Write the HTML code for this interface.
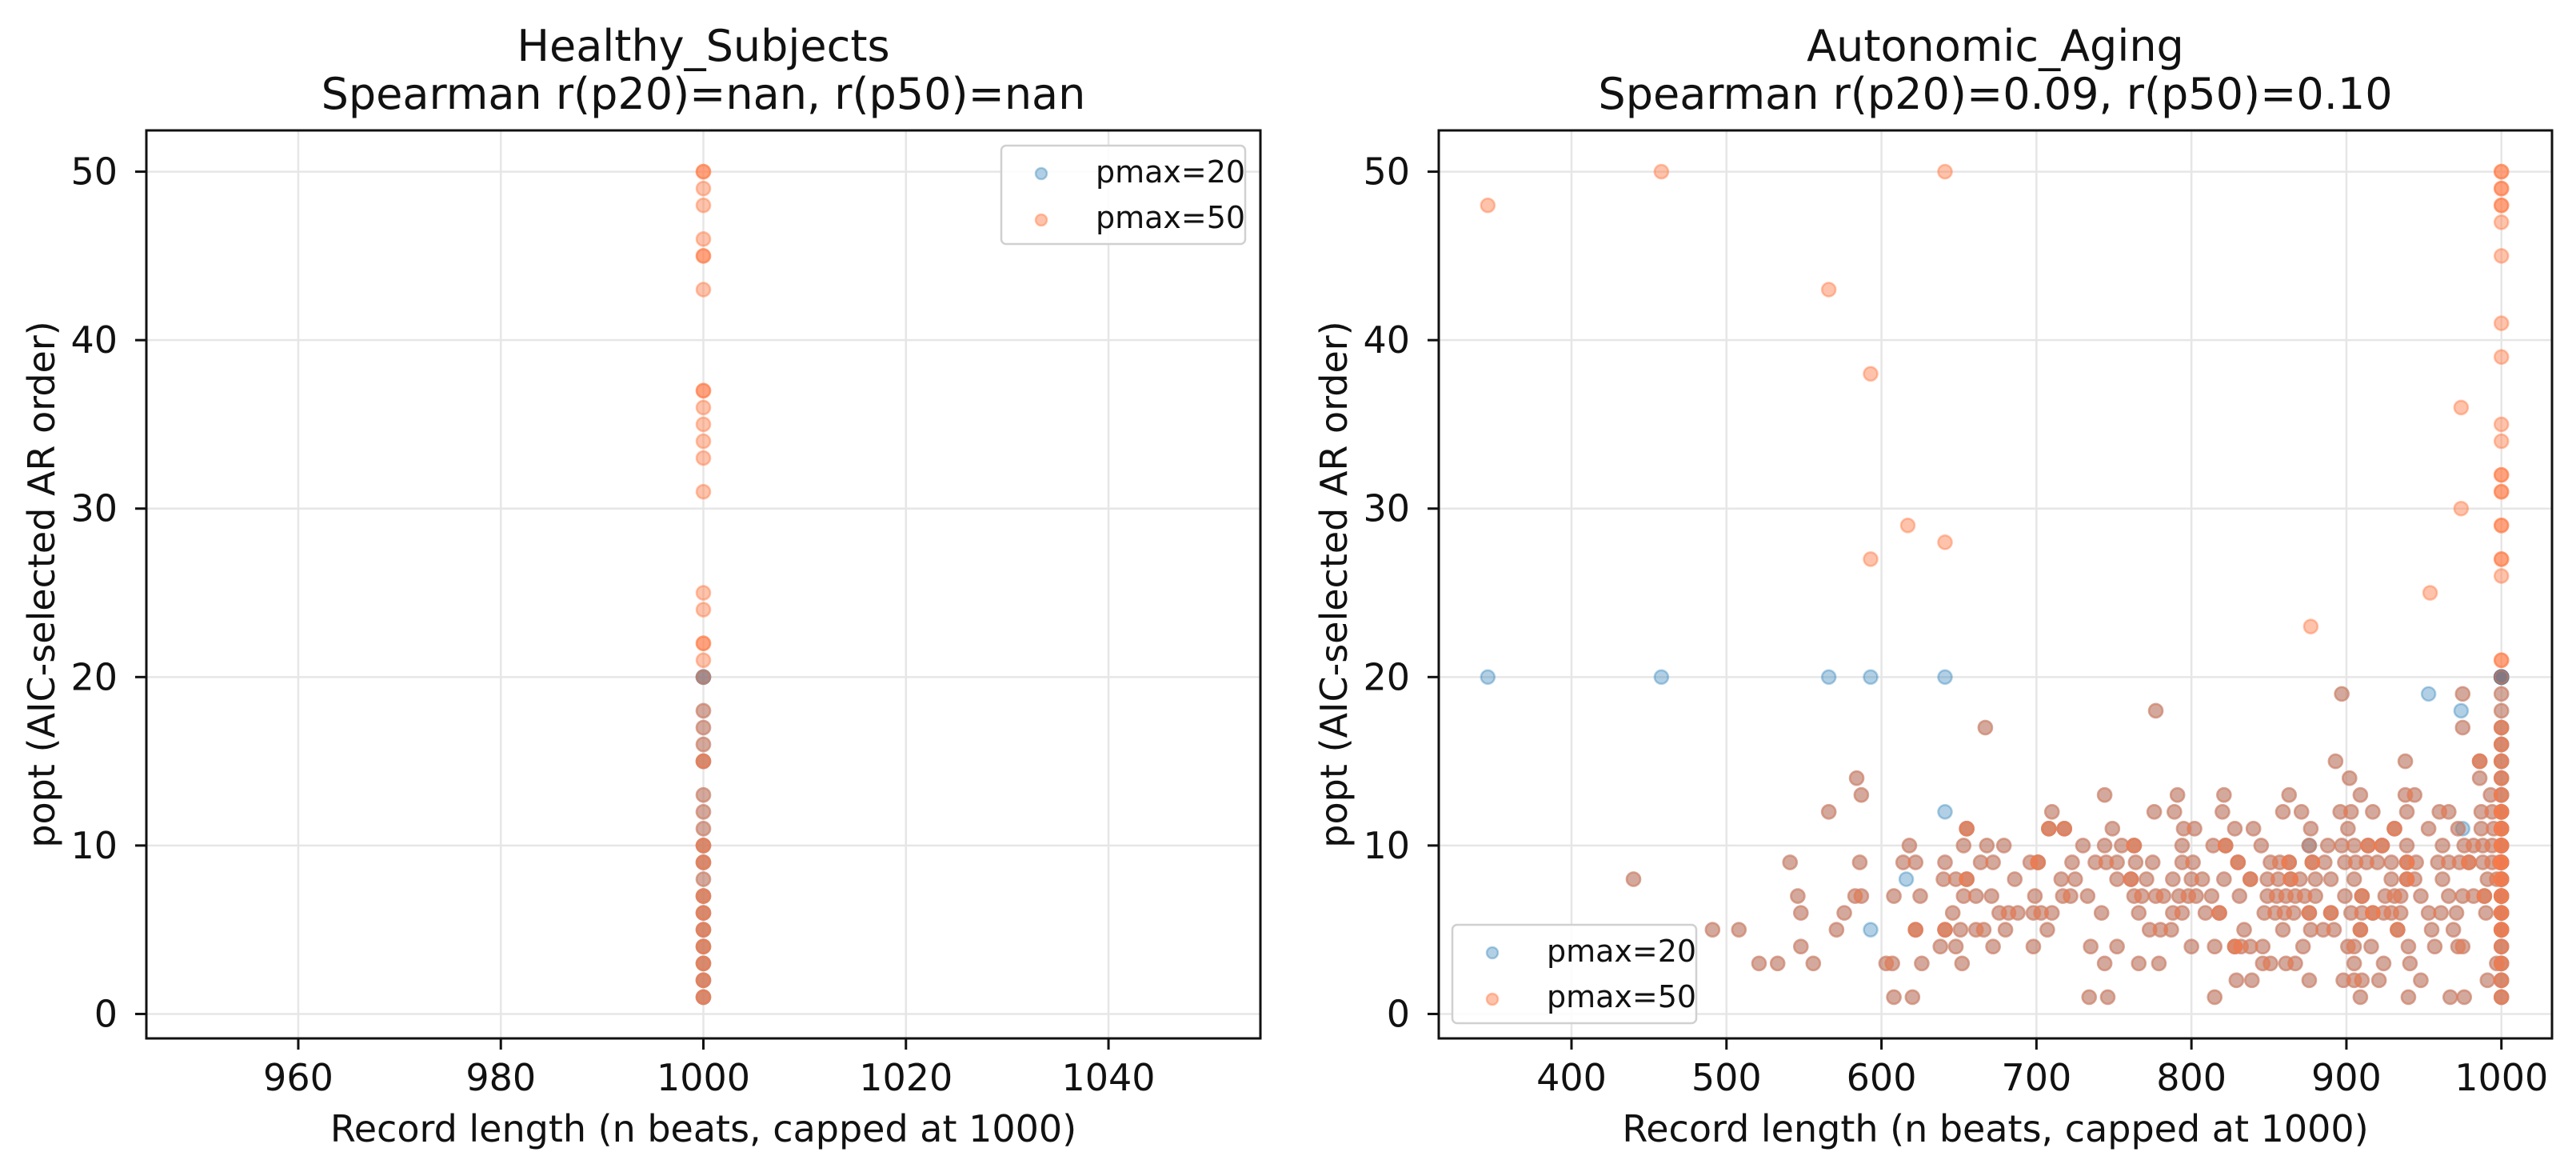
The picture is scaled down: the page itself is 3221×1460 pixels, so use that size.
<!DOCTYPE html>
<html><head><meta charset="utf-8">
<style>
html,body{margin:0;padding:0;background:#fff;}
svg{display:block;font-family:"DejaVu Sans","Liberation Sans",sans-serif;}
</style></head>
<body>
<svg id="fig" width="3221" height="1460" viewBox="0 0 3221 1460" xmlns="http://www.w3.org/2000/svg"></svg>
<script>
// ---------- Panel 1: Healthy_Subjects ----------
const hsSharedY = [1,1,2,2,3,3,4,4,5,5,6,6,7,7,8,9,9,10,10,11,12,13,15,15,16,17,18];
const hsP20ExtraY = [20,20,20];
const hsP50ExtraY = [20,21,22,22,24,25,31,33,34,35,36,37,37,43,45,45,46,48,49,50,50];
const hsRecordLen = 1000;
const hsXTicks = [960,980,1000,1020,1040];
// ---------- Panel 2: Autonomic_Aging ----------
const aaSharedX = [667,584,587,566,655,655,618,653,668,541,586,614,622,641,664,672,440,640,648,655,655,546,583,587,608,625,653,661,671,548,576,646,491,508,571,622,622,641,641,651,661,666,548,638,648,672,521,533,556,603,607,626,652,608,620,
897,975,777,975,893,938,986,986,902,986,
744,791,821,863,909,938,944,993,
710,776,789,820,859,871,896,903,917,939,960,966,987,994,
708,708,718,718,749,795,802,828,840,877,901,931,931,953,972,987,995,
679,730,744,755,763,763,794,814,822,822,845,876,888,897,905,914,914,923,923,939,962,976,982,988,994,
696,701,701,723,738,745,752,764,775,794,801,830,830,851,857,863,863,878,878,886,899,906,913,920,929,939,939,945,959,966,973,979,979,988,994,999,
686,716,725,752,761,761,771,788,800,807,821,838,838,849,856,864,864,870,880,890,905,929,939,939,944,962,991,997,
699,717,722,733,763,768,777,782,792,798,803,813,831,849,855,861,867,873,880,899,910,910,925,931,935,948,966,975,982,989,989,
676,682,688,698,703,710,742,766,788,794,809,818,818,847,854,860,866,876,876,890,890,903,910,917,917,924,929,935,953,961,971,990,
680,707,773,780,787,834,859,877,885,892,909,909,933,933,955,969,
698,735,752,800,815,828,828,832,838,846,872,901,905,916,940,957,972,975,
744,766,779,846,851,861,867,905,924,941,997,
829,839,876,898,905,910,921,948,991,
734,746,815,909,940,967,976,
1000,1000,1000,1000,1000,1000,1000,1000,1000,1000,1000,1000,1000,1000,1000,1000,1000,1000,1000,
1000,1000,1000,1000,1000,1000,1000,1000,1000,1000,1000,1000,1000,1000,1000,1000,1000,
1000,1000,1000,1000,1000,1000,1000,1000];
const aaSharedY = [17,14,13,12,11,11,10,10,10,9,9,9,9,9,9,9,8,8,8,8,8,7,7,7,7,7,7,7,7,6,6,6,5,5,5,5,5,5,5,5,5,5,4,4,4,4,3,3,3,3,3,3,3,1,1,
19,19,18,17,15,15,15,15,14,14,
13,13,13,13,13,13,13,13,
12,12,12,12,12,12,12,12,12,12,12,12,12,12,
11,11,11,11,11,11,11,11,11,11,11,11,11,11,11,11,11,
10,10,10,10,10,10,10,10,10,10,10,10,10,10,10,10,10,10,10,10,10,10,10,10,10,
9,9,9,9,9,9,9,9,9,9,9,9,9,9,9,9,9,9,9,9,9,9,9,9,9,9,9,9,9,9,9,9,9,9,9,9,
8,8,8,8,8,8,8,8,8,8,8,8,8,8,8,8,8,8,8,8,8,8,8,8,8,8,8,8,
7,7,7,7,7,7,7,7,7,7,7,7,7,7,7,7,7,7,7,7,7,7,7,7,7,7,7,7,7,7,7,
6,6,6,6,6,6,6,6,6,6,6,6,6,6,6,6,6,6,6,6,6,6,6,6,6,6,6,6,6,6,6,6,
5,5,5,5,5,5,5,5,5,5,5,5,5,5,5,5,
4,4,4,4,4,4,4,4,4,4,4,4,4,4,4,4,4,4,
3,3,3,3,3,3,3,3,3,3,3,
2,2,2,2,2,2,2,2,2,
1,1,1,1,1,1,1,
1,2,3,4,5,6,7,8,9,10,11,12,13,14,15,16,17,18,19,
1,2,3,4,5,6,7,8,9,10,11,12,13,14,15,16,17,
5,6,7,8,9,10,11,12];
const aaP20ExtraX = [346,458,566,593,641,641,616,593,953,974,975,876,1000,1000,1000,1000,1000,1000,1000,1000,1000,1000,1000,1000];
const aaP20ExtraY = [20,20,20,20,20,12,8,5,19,18,11,10,20,20,20,20,20,20,20,20,20,20,20,20];
const aaP50ExtraX = [346,458,566,593,641,641,617,593,954,974,974,877,1000,1000,1000,1000,1000,1000,1000,1000,1000,1000,1000,1000,1000,1000,1000,1000,1000,1000,1000,1000,1000,1000,1000,1000];
const aaP50ExtraY = [48,50,43,38,50,28,29,27,25,36,30,23,20,21,21,26,27,27,29,29,31,31,32,32,34,35,39,41,45,47,48,48,49,49,50,50];
const aaXTicks = [400,500,600,700,800,900,1000];
const yTicks = [0,10,20,30,40,50];

const NS = "http://www.w3.org/2000/svg";
const svg = document.getElementById('fig');
function mk(tag, attrs, parent, text){
  const e = document.createElementNS(NS, tag);
  for (const k in attrs) e.setAttribute(k, attrs[k]);
  if (text !== undefined) e.textContent = text;
  (parent || svg).appendChild(e);
  return e;
}
const TOP = 163, BOT = 1298;
const Y0 = -1.45, Y1 = 52.45;
function yScale(v){ return BOT - (v - Y0) / (Y1 - Y0) * (BOT - TOP); }
const C20 = '#1f77b4', C50 = '#ff7a45';

function panel(cfg){
  const g = mk('g', {});
  
  
  const xs = v => cfg.L + (v - cfg.x0) / (cfg.x1 - cfg.x0) * (cfg.R - cfg.L);
  cfg.xTicks.forEach(t => {
    const l = mk('line', {x1: xs(t), x2: xs(t), y1: TOP, y2: BOT, stroke: '#e6e6e6', 'stroke-width': 2.5}, g);
    
    
  });
  yTicks.forEach(t => {
    const l = mk('line', {x1: cfg.L, x2: cfg.R, y1: yScale(t), y2: yScale(t), stroke: '#e6e6e6', 'stroke-width': 2.5}, g);
    
    
  });
  const pts = mk('g', {}, g);
  
  
  function dot(x, y, color, op, nm){
    const c = mk('circle', {cx: xs(x), cy: yScale(y), r: 8.5, fill: color, 'fill-opacity': op, stroke: color, 'stroke-opacity': op, 'stroke-width': 2.6}, pts);
    
    
  }
  for (let i = 0; i < cfg.p20X.length; i++) dot(cfg.p20X[i], cfg.p20Y[i], C20, 0.35, 'point-pmax20');
  for (let i = 0; i < cfg.p50X.length; i++) dot(cfg.p50X[i], cfg.p50Y[i], C50, 0.45, 'point-pmax50');
  const sp = mk('rect', {x: cfg.L, y: TOP, width: cfg.R - cfg.L, height: BOT - TOP, fill: 'none', stroke: '#111', 'stroke-width': 3}, g);
  
  
  cfg.xTicks.forEach(t => {
    const tl = mk('line', {x1: xs(t), x2: xs(t), y1: BOT, y2: BOT + 14, stroke: '#111', 'stroke-width': 3}, g);
    
    
    const tx = mk('text', {x: xs(t), y: 1363, 'font-size': 46, 'text-anchor': 'middle', fill: '#111'}, g, String(t));
    
    
  });
  yTicks.forEach(t => {
    const tl = mk('line', {x1: cfg.L - 14, x2: cfg.L, y1: yScale(t), y2: yScale(t), stroke: '#111', 'stroke-width': 3}, g);
    
    
    const tx = mk('text', {x: cfg.L - 36, y: yScale(t) + 16, 'font-size': 46, 'text-anchor': 'end', fill: '#111'}, g, String(t));
    
    
  });
  const cx = (cfg.L + cfg.R) / 2;
  const t1 = mk('text', {x: cx, y: 76, 'font-size': 54, 'text-anchor': 'middle', fill: '#111'}, g, cfg.title1);
  
  
  const t2 = mk('text', {x: cx, y: 136, 'font-size': 54, 'text-anchor': 'middle', fill: '#111'}, g, cfg.title2);
  
  
  const xl = mk('text', {x: cx, y: 1427, 'font-size': 46, 'text-anchor': 'middle', fill: '#111'}, g, 'Record length (n beats, capped at 1000)');
  
  
  const yx = cfg.L - 131;
  const yl = mk('text', {x: yx, y: (TOP + BOT) / 2, 'font-size': 46, 'text-anchor': 'middle', 'dominant-baseline': 'central', fill: '#111', transform: 'rotate(-90 ' + yx + ' ' + (TOP + BOT) / 2 + ')'}, g, 'popt (AIC-selected AR order)');
  
  
  const lg = mk('g', {}, g);
  
  
  mk('rect', {x: cfg.legX, y: cfg.legY, width: 305, height: 123, rx: 6, fill: '#fff', 'fill-opacity': 0.85, stroke: '#d0d0d0', 'stroke-width': 2.5}, lg);
  [['pmax=20', C20, 0.35, 'legend-entry-pmax20'], ['pmax=50', C50, 0.45, 'legend-entry-pmax50']].forEach((e, i) => {
    const ge = mk('g', {}, lg);
    
    
    mk('circle', {cx: cfg.legX + 50, cy: cfg.legY + 35 + i * 58, r: 7, fill: e[1], 'fill-opacity': e[2], stroke: e[1], 'stroke-opacity': e[2], 'stroke-width': 2.5}, ge);
    mk('text', {x: cfg.legX + 118, y: cfg.legY + 46 + i * 57, 'font-size': 38, fill: '#111'}, ge, e[0]);
  });
}

const hsP20Y = hsSharedY.concat(hsP20ExtraY);
const hsP50Y = hsSharedY.concat(hsP50ExtraY);
panel({name: 'panel-healthy-subjects', L: 183, R: 1576, x0: 945, x1: 1055, xTicks: hsXTicks,
  p20X: hsP20Y.map(() => hsRecordLen), p20Y: hsP20Y,
  p50X: hsP50Y.map(() => hsRecordLen), p50Y: hsP50Y,
  title1: 'Healthy_Subjects', title2: 'Spearman r(p20)=nan, r(p50)=nan', legX: 1252, legY: 182});
panel({name: 'panel-autonomic-aging', L: 1799, R: 3191, x0: 314.35, x1: 1032.65, xTicks: aaXTicks,
  p20X: aaSharedX.concat(aaP20ExtraX), p20Y: aaSharedY.concat(aaP20ExtraY),
  p50X: aaSharedX.concat(aaP50ExtraX), p50Y: aaSharedY.concat(aaP50ExtraY),
  title1: 'Autonomic_Aging', title2: 'Spearman r(p20)=0.09, r(p50)=0.10', legX: 1816, legY: 1156});
</script>
</body></html>
